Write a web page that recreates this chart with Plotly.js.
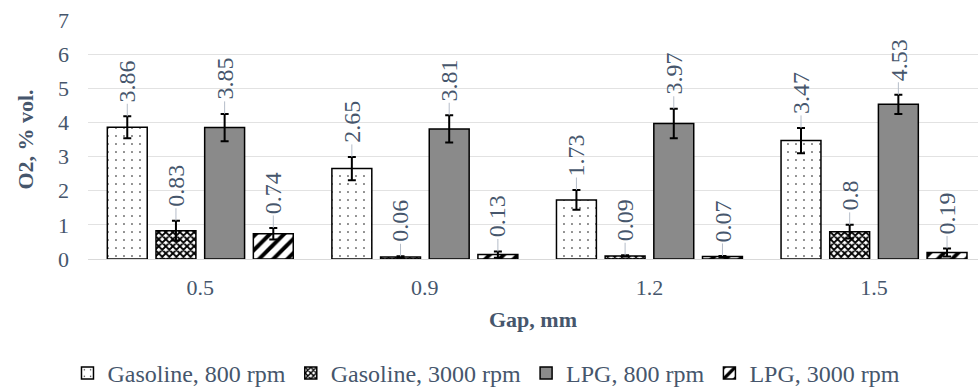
<!DOCTYPE html>
<html>
<head>
<meta charset="utf-8">
<script src="https://cdn.plot.ly/plotly-3.0.1.min.js"></script>
<style>
  html, body { margin: 0; padding: 0; background: #ffffff; }
  #chart { width: 978px; height: 389px; }
</style>
</head>
<body>
<div id="chart"></div>
<script>
// ---- data ----
const gaps = ['0.5', '0.9', '1.2', '1.5'];
const seriesNames = ['Gasoline, 800 rpm', 'Gasoline, 3000 rpm', 'LPG, 800 rpm', 'LPG, 3000 rpm'];
const gasoline800 = [3.86, 2.65, 1.73, 3.47];
const gasoline3000 = [0.83, 0.06, 0.09, 0.8];
const lpg800 = [3.85, 3.81, 3.97, 4.53];
const lpg3000 = [0.74, 0.13, 0.07, 0.19];
const gasoline800Err = [0.32, 0.34, 0.29, 0.37];
const gasoline3000Err = [0.29, 0.02, 0.02, 0.20];
const lpg800Err = [0.40, 0.40, 0.43, 0.28];
const lpg3000Err = [0.17, 0.09, 0.02, 0.12];
const yTicks = [0, 1, 2, 3, 4, 5, 6, 7];

// ---- styling ----
const textColor = '#46566c';
const fontFamily = '"Liberation Serif", "Times New Roman", serif';
const labelSize = 24;
const bargap = 0.133;
const values = [gasoline800, gasoline3000, lpg800, lpg3000];
const errs = [gasoline800Err, gasoline3000Err, lpg800Err, lpg3000Err];
const markers = [
  { color: '#ffffff', line: { color: '#000000', width: 1.5 },
    pattern: { shape: '.', fgcolor: '#000000', bgcolor: '#ffffff', size: 8, solidity: 0.03, fillmode: 'replace' } },
  { color: '#ffffff', line: { color: '#000000', width: 1.5 },
    pattern: { shape: 'x', fgcolor: '#000000', bgcolor: '#ffffff', size: 5, solidity: 0.6, fillmode: 'replace' } },
  { color: '#8a8a8a', line: { color: '#000000', width: 1.5 } },
  { color: '#ffffff', line: { color: '#000000', width: 1.5 },
    pattern: { shape: '/', fgcolor: '#000000', bgcolor: '#ffffff', size: 10, solidity: 0.4, fillmode: 'replace' } }
];

const traces = values.map((vals, i) => ({
  type: 'bar',
  name: seriesNames[i],
  x: gaps,
  y: vals,
  marker: markers[i],
  error_y: { type: 'data', array: errs[i], visible: true, color: '#000000', thickness: 2, width: 4 },
  hoverinfo: 'x+y+name'
}));

// measure label length so the rotated text starts a fixed gap above the error bar
const ctx = document.createElement('canvas').getContext('2d');
ctx.font = labelSize + 'px "Liberation Serif"';
const labelGap = 14;

const slot = (1 - bargap) / 4;
const annotations = [];
values.forEach((vals, i) => {
  vals.forEach((v, j) => {
    const txt = String(v);
    const len = ctx.measureText(txt).width;
    annotations.push({
      xref: 'x', yref: 'y',
      x: j + (i - 1.5) * slot,
      y: v + errs[i][j],
      text: txt,
      textangle: -90,
      showarrow: true,
      arrowhead: 0,
      arrowwidth: 1,
      arrowcolor: '#b4bcc8',
      ax: 0, ay: -(labelGap + len / 2),
      standoff: 0,
      font: { family: fontFamily, size: labelSize, color: textColor }
    });
  });
});

const layout = {
  width: 978, height: 389,
  margin: { l: 88, r: 0, t: 20, b: 130 },
  paper_bgcolor: '#ffffff', plot_bgcolor: '#ffffff',
  font: { family: fontFamily, size: 22, color: textColor },
  barmode: 'group',
  bargap: bargap,
  bargroupgap: 0.18,
  showlegend: true,
  legend: {
    orientation: 'h', xref: 'container', x: 0.069, xanchor: 'left',
    yref: 'container', y: 0.04, yanchor: 'middle',
    font: { family: fontFamily, size: 24, color: textColor },
    traceorder: 'normal'
  },
  xaxis: {
    type: 'category',
    range: [-0.5, 3.463],
    showgrid: false, zeroline: false, showline: false,
    ticks: '', ticklabelstandoff: 13,
    automargin: false,
    tickfont: { family: fontFamily, size: 22, color: textColor },
    title: { text: 'Gap, mm', standoff: 12, font: { family: fontFamily, size: 22, color: textColor, weight: 'bold' } }
  },
  yaxis: {
    range: [0, 7],
    tickvals: yTicks,
    showgrid: true, gridcolor: '#e2e2e2', gridwidth: 1,
    zeroline: true, zerolinecolor: '#d9d9d9', zerolinewidth: 1,
    showline: false, ticks: '', ticklabelstandoff: 18,
    automargin: false,
    tickfont: { family: fontFamily, size: 22, color: textColor },
    title: { text: 'O2, % vol.', standoff: 18, font: { family: fontFamily, size: 22, color: textColor, weight: 'bold' } }
  },
  annotations: annotations
};

Plotly.newPlot('chart', traces, layout, { displayModeBar: false, staticPlot: true });
</script>
</body>
</html>
